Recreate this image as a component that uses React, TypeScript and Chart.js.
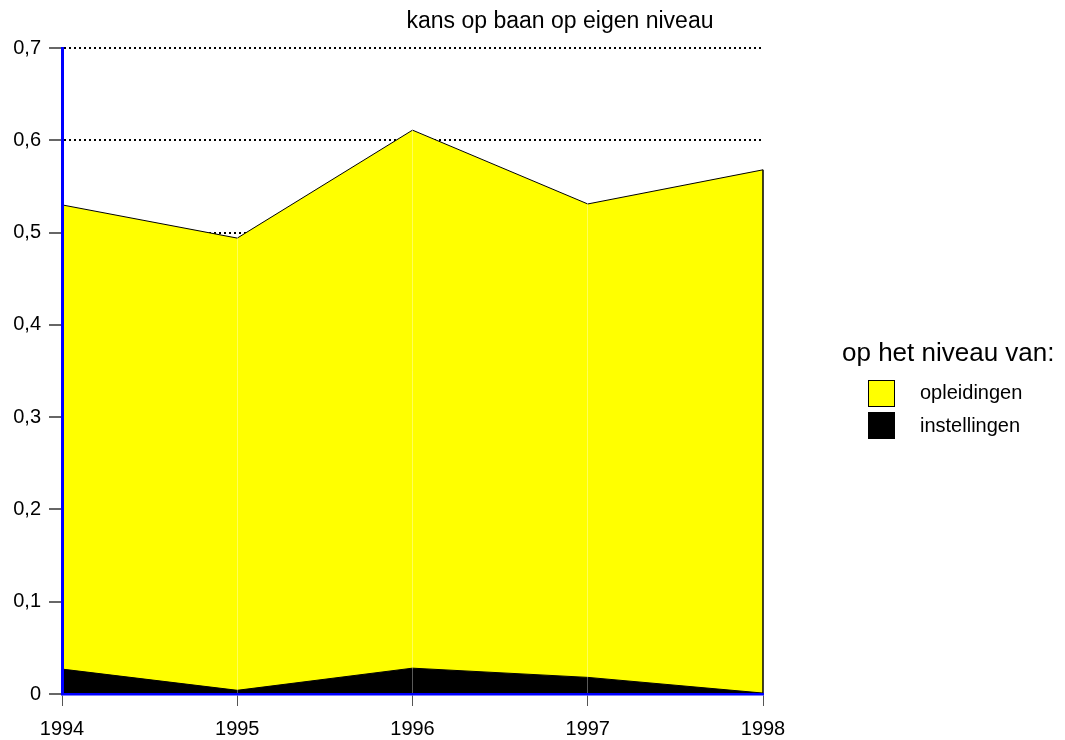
import React, { useEffect, useRef } from "react";
import { Chart, registerables } from "chart.js";

Chart.register(...registerables);

const years = ["1994", "1995", "1996", "1997", "1998"];
const opleidingen = [0.530, 0.494, 0.611, 0.531, 0.568];
const instellingen = [0.027, 0.004, 0.028, 0.018, 0.001];
const yTicks = [0, 0.1, 0.2, 0.3, 0.4, 0.5, 0.6, 0.7];
const titleText = "kans op baan op eigen niveau";
const legendTitle = "op het niveau van:";
const seriesNames = ["opleidingen", "instellingen"];
const seriesColors = ["#ffff00", "#000000"];

const FONT = "'Liberation Sans', Arial, Helvetica, sans-serif";

const overlayPlugin = {
  id: "overlay",
  afterDatasetsDraw(chart: any) {
    const ctx = chart.ctx;
    const meta = chart.getDatasetMeta(1);
    const last = meta.data[meta.data.length - 1];
    const y0 = chart.scales.y.getPixelForValue(0);
    ctx.save();
    ctx.strokeStyle = "#000";
    ctx.lineWidth = 1.5;
    ctx.beginPath();
    ctx.moveTo(last.x, last.y);
    ctx.lineTo(last.x, y0);
    ctx.stroke();
    ctx.restore();
  },
  afterDraw(chart: any) {
    const ctx = chart.ctx;
    ctx.save();
    ctx.fillStyle = "#000";
    ctx.textBaseline = "middle";
    ctx.font = `23px ${FONT}`;
    ctx.textAlign = "center";
    ctx.fillText(titleText, 560, 22);
    ctx.textAlign = "left";
    ctx.font = `26px ${FONT}`;
    ctx.fillText(legendTitle, 842, 354);
    ctx.font = `20px ${FONT}`;
    const boxY = [380, 412];
    const textY = [393, 426];
    for (let i = 0; i < seriesNames.length; i++) {
      ctx.fillStyle = seriesColors[i];
      ctx.fillRect(868, boxY[i], 27, 27);
      ctx.strokeStyle = "#000";
      ctx.lineWidth = 1;
      ctx.strokeRect(868.5, boxY[i] + 0.5, 26, 26);
      ctx.fillStyle = "#000";
      ctx.fillText(seriesNames[i], 920, textY[i]);
    }
    ctx.restore();
  },
};

export default function App() {
  const ref = useRef<HTMLCanvasElement>(null);
  useEffect(() => {
    if (!ref.current) return;
    const chart = new Chart(ref.current, {
      type: "line",
      data: {
        labels: years,
        datasets: [
          {
            label: seriesNames[1],
            data: instellingen,
            backgroundColor: seriesColors[1],
            borderColor: "#000",
            borderWidth: 1,
            fill: "origin",
            pointRadius: 0,
            tension: 0,
            order: 1,
          },
          {
            label: seriesNames[0],
            data: opleidingen,
            backgroundColor: seriesColors[0],
            borderColor: "#000",
            borderWidth: 1,
            fill: "origin",
            pointRadius: 0,
            tension: 0,
            order: 2,
          },
        ],
      },
      options: {
        animation: false,
        responsive: false,
        layout: { padding: { left: 0, top: 48, right: 302, bottom: 0 } },
        plugins: {
          legend: { display: false },
          title: { display: false },
          tooltip: { enabled: false },
        },
        scales: {
          x: {
            type: "category",
            offset: false,
            afterFit(scale: any) {
              scale.height = 46;
            },
            grid: {
              z: 1,
              color: (c: any) =>
                c.index === 0 || c.index === years.length - 1
                  ? "rgba(0,0,0,0)"
                  : "rgba(255,255,255,0.35)",
              lineWidth: 1,
              tickLength: 12,
              tickColor: "#555",
              tickWidth: 1,
            },
            border: { color: "#0000ff", width: 2.5, z: 1 },
            ticks: {
              color: "#000",
              font: { family: FONT, size: 20 },
              padding: 11,
              maxRotation: 0,
            },
          },
          y: {
            min: 0,
            max: 0.7,
            afterFit(scale: any) {
              scale.width = 62;
            },
            afterBuildTicks(scale: any) {
              scale.ticks = yTicks.map((v) => ({ value: v }));
            },
            grid: {
              color: "#000",
              lineWidth: 2,
              tickLength: 13,
              tickColor: "#000",
              tickWidth: 1.2,
              tickBorderDash: [],
            },
            border: { color: "#0000ff", width: 3, z: 1, dash: [2, 3] },
            ticks: {
              color: "#000",
              font: { family: FONT, size: 20 },
              padding: 8,
              callback: (v: any) =>
                Number(v) === 0 ? "0" : Number(v).toFixed(1).replace(".", ","),
            },
          },
        },
      },
      plugins: [overlayPlugin],
    });
    return () => chart.destroy();
  }, []);
  return (
    <div style={{ position: "absolute", left: 0, top: 0, width: 1065, height: 740, background: "#fff" }}>
      <canvas ref={ref} width={1065} height={740} />
    </div>
  );
}
